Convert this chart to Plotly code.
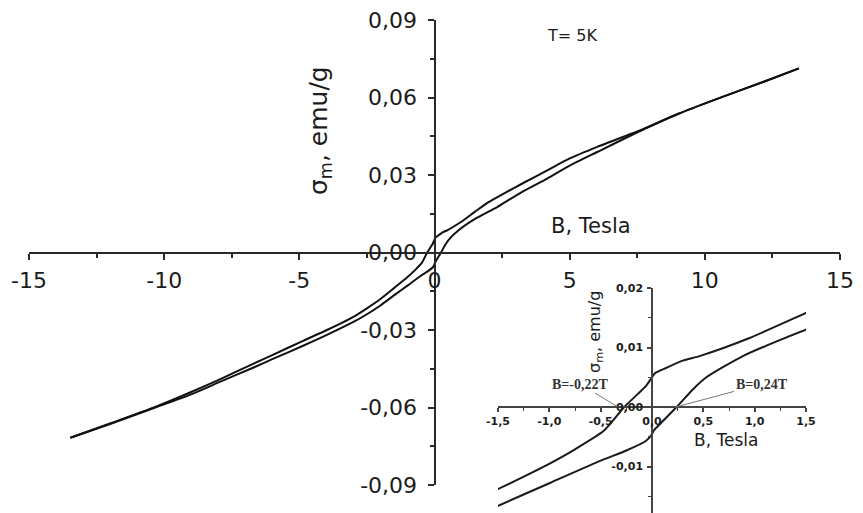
import plotly.graph_objects as go

# ---------------- data ----------------
# descending-field branch (upper branch near B=0)
B_down = [13.48, 12.18, 10.33, 9.00, 7.87, 6.02, 5.00, 4.17, 3.30, 2.56, 2.00, 1.50,
          0.95, 0.47, 0.30, 0.14, 0.03, 0.00, -0.06, -0.12, -0.27, -0.47, -0.75,
          -1.02, -1.50, -2.00, -2.50, -3.00, -4.00, -4.84, -6.00, -6.69, -7.92,
          -9.00, -10.38, -12.00, -13.47]
M_down = [0.0713, 0.0661, 0.0590, 0.0536, 0.0484, 0.0409, 0.0364, 0.0318, 0.0270,
          0.0228, 0.0195, 0.0158, 0.0116, 0.0086, 0.0078, 0.0066, 0.0057, 0.0050,
          0.0035, 0.0025, 0.0000, -0.0040, -0.0071, -0.0097, -0.0138, -0.0180,
          -0.0216, -0.0249, -0.0301, -0.0341, -0.0397, -0.0430, -0.0490, -0.0540,
          -0.0600, -0.0662, -0.0717]
# ascending-field branch (lower branch near B=0)
B_up = [-13.47, -12.00, -10.38, -9.00, -7.92, -6.69, -6.00, -4.84, -4.00, -3.00,
        -2.50, -2.00, -1.50, -1.00, -0.50, -0.25, -0.06, -0.01, 0.02, 0.08, 0.24,
        0.40, 0.53, 0.89, 1.50, 2.32, 3.20, 4.17, 5.00, 6.02, 7.87, 9.00, 10.33,
        12.18, 13.48]
M_up = [-0.0717, -0.0664, -0.0602, -0.0549, -0.0500, -0.0445, -0.0413, -0.0360,
        -0.0320, -0.0269, -0.0239, -0.0205, -0.0166, -0.0128, -0.0090, -0.0073,
        -0.0057, -0.0048, -0.0039, -0.0028, 0.0000, 0.0030, 0.0050, 0.0086, 0.0130,
        0.0176, 0.0232, 0.0286, 0.0336, 0.0389, 0.0484, 0.0536, 0.0590, 0.0661, 0.0713]

main_xtick_vals = [-15, -10, -5, 0, 5, 10, 15]
main_xtick_text = ["-15", "-10", "-5", "0", "5", "10", "15"]
main_ytick_vals = [-0.09, -0.06, -0.03, 0.0, 0.03, 0.06, 0.09]
main_ytick_text = ["-0,09", "-0,06", "-0,03", "0,00", "0,03", "0,06", "0,09"]
inset_xtick_vals = [-1.5, -1.0, -0.5, 0.0, 0.5, 1.0, 1.5]
inset_xtick_text = ["-1,5", "-1,0", "-0,5", "0,0", "0,5", "1,0", "1,5"]
inset_ytick_vals = [-0.01, 0.0, 0.01, 0.02]
inset_ytick_text = ["-0,01", "0,00", "0,01", "0,02"]

# ---------------- layout geometry ----------------
W, H = 863, 513
SANS = "DejaVu Sans"
TXT = "#1c1c1c"
AX = "#2a2a2a"

main_xr = [-15, 15]
main_yr = [-0.09, 0.09]
main_xd = [29 / W, 840 / W]
main_yd = [(H - 485) / H, (H - 20) / H]

ins_xr = [-1.5, 1.5]
ins_yr = [-0.0178, 0.02]
ins_xd = [498 / W, 806 / W]
ins_yd = [0.0, (H - 288) / H]


def zero_pos(rng, dom):
    return dom[0] + (0 - rng[0]) / (rng[1] - rng[0]) * (dom[1] - dom[0])


def px(x):
    return x / W


def py(y):
    return (H - y) / H


fig = go.Figure()
line_main = dict(color="#111111", width=2, shape="spline", smoothing=0.6)
fig.add_trace(go.Scatter(x=B_down, y=M_down, mode="lines", line=line_main,
                         xaxis="x", yaxis="y", showlegend=False))
fig.add_trace(go.Scatter(x=B_up, y=M_up, mode="lines", line=line_main,
                         xaxis="x", yaxis="y", showlegend=False))
line_ins = dict(color="#1a1a1a", width=2, shape="spline", smoothing=0.6)
fig.add_trace(go.Scatter(x=B_down, y=M_down, mode="lines", line=line_ins,
                         xaxis="x2", yaxis="y2", showlegend=False))
fig.add_trace(go.Scatter(x=B_up, y=M_up, mode="lines", line=line_ins,
                         xaxis="x2", yaxis="y2", showlegend=False))

common = dict(showgrid=False, zeroline=False, showline=True, automargin=False,
              fixedrange=True, ticks="outside")

fig.update_layout(
    width=W, height=H,
    margin=dict(l=0, r=0, t=0, b=0),
    paper_bgcolor="white", plot_bgcolor="rgba(0,0,0,0)",
    template="none",
    xaxis=dict(common, range=main_xr, domain=main_xd, anchor="free",
               position=zero_pos(main_yr, main_yd),
               linecolor=AX, linewidth=2, tickcolor=AX, tickwidth=2, ticklen=6,
               tickmode="array", tickvals=main_xtick_vals, ticktext=main_xtick_text,
               tickfont=dict(family=SANS, size=22, color=TXT), ticklabelstandoff=2,
               minor=dict(ticks="outside", ticklen=4, tickwidth=2, tickcolor=AX,
                          dtick=2.5, tick0=0, showgrid=False)),
    yaxis=dict(common, range=main_yr, domain=main_yd, anchor="free", side="left",
               position=zero_pos(main_xr, main_xd),
               linecolor=AX, linewidth=2, tickcolor=AX, tickwidth=2, ticklen=6,
               tickmode="array", tickvals=main_ytick_vals, ticktext=main_ytick_text,
               tickfont=dict(family=SANS, size=22, color=TXT), ticklabelstandoff=6,
               minor=dict(ticks="outside", ticklen=4, tickwidth=2, tickcolor=AX,
                          dtick=0.015, tick0=0, showgrid=False)),
    xaxis2=dict(common, range=ins_xr, domain=ins_xd, anchor="free",
                position=zero_pos(ins_yr, ins_yd),
                linecolor="#444", linewidth=1.5, tickcolor="#444", tickwidth=1.5, ticklen=4,
                tickmode="array", tickvals=inset_xtick_vals, ticktext=inset_xtick_text,
                tickfont=dict(family=SANS, size=11, color=TXT, weight="bold"),
                ticklabelstandoff=0,
                minor=dict(ticks="outside", ticklen=3, tickwidth=1, tickcolor="#444",
                           dtick=0.25, tick0=0, showgrid=False)),
    yaxis2=dict(common, range=ins_yr, domain=ins_yd, anchor="free", side="left",
                position=zero_pos(ins_xr, ins_xd),
                linecolor="#444", linewidth=1.5, tickcolor="#444", tickwidth=1.5, ticklen=4,
                tickmode="array", tickvals=inset_ytick_vals, ticktext=inset_ytick_text,
                tickfont=dict(family=SANS, size=11, color=TXT, weight="bold"),
                ticklabelstandoff=2,
                minor=dict(ticks="outside", ticklen=3, tickwidth=1, tickcolor="#444",
                           dtick=0.005, tick0=0, showgrid=False)),
)

ann = [
    dict(text="σ<sub>m</sub>, emu/g", x=px(320), y=py(131), textangle=-90,
         font=dict(family=SANS, size=25, color=TXT)),
    dict(text="B, Tesla", x=px(591), y=py(226), font=dict(family=SANS, size=21, color=TXT)),
    dict(text="T= 5K", x=px(572), y=py(35), font=dict(family=SANS, size=16, color=TXT)),
    dict(text="σ<sub>m</sub>, emu/g", x=px(595), y=py(332), textangle=-90,
         font=dict(family=SANS, size=16, color=TXT)),
    dict(text="B, Tesla", x=px(726), y=py(440), font=dict(family=SANS, size=17, color=TXT)),
]
for a in ann:
    a.update(xref="paper", yref="paper", showarrow=False, xanchor="center", yanchor="middle")
    fig.add_annotation(**a)

serif = dict(family="Liberation Serif", size=14, color="#333", weight="bold")
fig.add_annotation(text="B=-0,22T", x=-0.33, y=0, xref="x2", yref="y2",
                   showarrow=True, arrowhead=0, arrowwidth=1, arrowcolor="#777",
                   ax=-38, ay=-23, font=serif, standoff=0)
fig.add_annotation(text="B=0,24T", x=0.23, y=0, xref="x2", yref="y2",
                   showarrow=True, arrowhead=0, arrowwidth=1, arrowcolor="#777",
                   ax=86, ay=-23, font=serif, standoff=0)

fig.write_html("out.html", config={"displayModeBar": False})
